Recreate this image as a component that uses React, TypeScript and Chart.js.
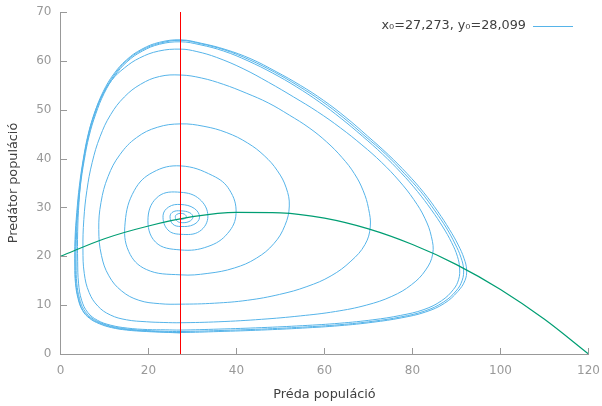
import { useEffect, useRef } from "react";
import { Chart, registerables } from "chart.js";

Chart.register(...registerables);

// ---- data -------------------------------------------------------------
const legendLabel = "x₀=27,273, y₀=28,099";
const xAxisTitle = "Préda populáció";
const yAxisTitle = "Predátor populáció";

const preyRange = [0, 120];
const predatorRange = [0, 70];
const preyStep = 20;
const predatorStep = 10;

// vertical predator nullcline (x = x*)
const equilibriumPrey = 27.273;

// prey nullcline (green curve)
const nullclinePrey = [0, 10, 20, 30, 40, 50, 60, 70, 80, 90, 100, 110, 120];
const nullclinePredator = [20.0, 23.6, 26.2, 28.1, 29.0, 28.9, 27.8, 25.6, 22.4, 18.3, 13.2, 7.1, 0.0];

// trajectory (prey, predator), spiralling out to the limit cycle
const trajectory: [number, number][] = [
  [27.27, 28.1],
  // turn 1
  [27.3, 27.6], [28.2, 27.7], [28.6, 28.1], [28.2, 28.6], [27.3, 28.8], [26.5, 28.6], [26.1, 28.2], [26.4, 27.3],
  // turn 2
  [27.3, 26.9], [29.2, 27.1], [30.1, 28.0], [29.4, 28.9], [27.3, 29.3], [25.6, 29.1], [24.9, 28.2], [25.5, 26.6],
  // turn 3
  [27.3, 26.1], [30.3, 26.5], [31.6, 28.0], [30.4, 29.8], [27.3, 30.6], [24.6, 30.1], [23.3, 28.3], [24.4, 25.4],
  // turn 4
  [27.3, 24.5], [31.6, 25.1], [33.5, 28.2], [31.6, 31.7], [27.3, 33.1], [22.3, 32.3], [19.9, 28.0], [21.6, 22.9],
  // turn 5
  [27.3, 21.3], [33.5, 22.0], [38.0, 24.7], [39.9, 28.8], [38.4, 33.6], [34.6, 36.5], [27.3, 38.5], [21.0, 37.2],
  [16.8, 33.5], [14.7, 27.0], [15.5, 21.0], [19.5, 17.3],
  // turn 6
  [27.3, 16.2], [33.5, 16.5], [39.5, 17.6], [44.5, 19.6], [48.5, 22.6], [51.0, 26.3], [52.0, 30.3],
  [51.3, 34.0], [49.3, 37.5], [46.3, 40.6], [42.5, 43.2], [37.8, 45.3], [32.6, 46.6], [27.3, 47.1],
  [22.0, 46.4], [17.3, 44.3], [13.5, 40.8], [10.8, 36.3], [9.2, 31.0], [8.7, 25.5],
  [9.3, 20.2], [11.0, 16.0], [13.9, 12.9], [17.8, 11.0], [22.5, 10.3],
  // turn 7
  [27.3, 10.2], [35.0, 10.4], [42.5, 11.0], [49.8, 12.2], [56.0, 13.8], [61.5, 16.0], [66.0, 19.0], [69.2, 22.4], [70.4, 26.0],
  [70.0, 29.8], [68.8, 33.4], [66.8, 36.9], [64.0, 40.2], [60.5, 43.4], [56.5, 46.3], [52.0, 48.9], [47.2, 51.4],
  [42.2, 53.4], [37.0, 55.2], [32.0, 56.5], [27.3, 57.1],
  [22.5, 56.8], [18.2, 55.2], [14.5, 52.6], [11.4, 49.0], [9.0, 44.5], [7.2, 39.2], [6.0, 33.5], [5.3, 27.5], [5.1, 21.5],
  [5.4, 16.5], [6.5, 12.6], [8.5, 9.8], [11.3, 8.0], [15.0, 7.0], [19.5, 6.6], [23.5, 6.45],
  // turn 8
  [27.3, 6.4], [36.0, 6.6], [45.7, 7.1], [54.5, 7.8], [62.5, 8.7], [69.5, 10.0], [75.3, 11.8], [79.8, 14.2], [83.0, 17.2], [84.6, 20.5],
  [84.3, 24.0], [82.8, 27.8], [80.3, 31.6], [77.0, 35.4], [73.0, 39.2], [68.5, 42.8], [63.6, 46.3], [58.4, 49.6],
  [53.0, 52.6], [47.3, 55.6], [41.5, 58.4], [35.5, 60.7], [31.0, 61.9], [27.3, 62.4],
  [22.3, 62.0], [18.0, 60.6], [14.6, 58.6], [11.6, 56.0], [9.1, 52.3], [7.2, 47.8], [5.8, 42.6], [4.8, 37.0],
  [4.2, 31.0], [3.9, 25.0], [3.9, 19.0],
  [4.1, 14.5], [4.8, 11.0], [6.2, 8.5], [8.4, 6.9], [11.4, 5.9], [15.2, 5.3], [19.8, 5.0], [23.8, 4.95],
  // turn 9
  [27.3, 4.9], [36.0, 5.1], [45.7, 5.4], [55.0, 5.8], [63.5, 6.3], [71.0, 7.0], [77.3, 7.9], [82.6, 9.1], [86.6, 10.9],
  [89.3, 13.2], [90.5, 15.3], [90.7, 17.6],
  [90.2, 20.0], [88.9, 22.8], [86.9, 26.0], [84.3, 29.5], [81.1, 33.3], [77.4, 37.1], [73.2, 40.9], [68.6, 44.6],
  [63.8, 48.2], [58.8, 51.6], [53.6, 54.7], [48.2, 57.5], [42.6, 60.0], [37.1, 62.0], [31.7, 63.3], [27.3, 63.9],
  [22.5, 63.4], [18.6, 62.0], [15.1, 59.8], [12.3, 56.9], [9.9, 53.3], [8.0, 49.1], [6.5, 44.6], [5.4, 39.7],
  [4.5, 34.3], [3.9, 28.8], [3.6, 23.3], [3.55, 18.0],
  [3.7, 14.5], [4.3, 11.4], [5.3, 9.1], [6.9, 7.5], [9.1, 6.4], [11.9, 5.6], [15.3, 5.1], [19.7, 4.8], [23.6, 4.65],
  // turn 10
  [27.3, 4.6], [36.0, 4.8], [45.7, 5.1], [55.0, 5.5], [63.5, 6.0], [71.0, 6.7], [77.4, 7.6], [82.8, 8.8], [87.0, 10.6],
  [89.9, 12.9], [91.3, 15.1], [91.6, 17.4],
  [91.0, 19.8], [89.7, 22.5], [87.7, 25.8], [85.1, 29.3], [81.9, 33.2], [78.1, 37.0], [73.9, 40.9], [69.2, 44.6],
  [64.4, 48.3], [59.3, 51.8], [54.0, 54.9], [48.6, 57.7], [43.0, 60.2], [37.4, 62.2], [31.9, 63.5], [27.3, 64.2],
  [22.5, 63.6], [18.5, 62.2], [15.0, 60.0], [12.2, 57.1], [9.8, 53.5], [7.9, 49.3], [6.4, 44.8], [5.3, 39.9],
  [4.4, 34.4], [3.8, 28.9], [3.4, 23.4], [3.35, 18.0],
  [3.5, 14.5], [4.1, 11.3], [5.1, 8.9], [6.7, 7.4], [8.9, 6.3], [11.7, 5.5], [15.1, 5.0], [19.6, 4.7], [23.5, 4.5],
  // turn 11 (limit cycle)
  [27.3, 4.4], [36.0, 4.6], [45.7, 4.9], [55.0, 5.3], [63.5, 5.8], [71.0, 6.5], [77.5, 7.4], [83.0, 8.6], [87.3, 10.4],
  [90.3, 12.8], [91.9, 15.0], [92.3, 17.2],
  [91.7, 19.6], [90.4, 22.3], [88.4, 25.5], [85.8, 29.1], [82.6, 33.0], [78.8, 36.9], [74.5, 40.8], [69.8, 44.6],
  [64.9, 48.4], [59.8, 51.9], [54.5, 55.0], [49.0, 57.8], [43.3, 60.4], [37.6, 62.3], [32.0, 63.6], [27.3, 64.3],
  [22.5, 63.8], [18.5, 62.4], [15.0, 60.2], [12.1, 57.3], [9.7, 53.7], [7.8, 49.5], [6.3, 45.0], [5.2, 40.0],
  [4.3, 34.5], [3.7, 29.0], [3.3, 23.5], [3.25, 18.0],
  [3.4, 14.5], [4.0, 11.3], [5.0, 8.9], [6.6, 7.3], [8.8, 6.2], [11.6, 5.4], [15.0, 4.9], [19.5, 4.6], [23.5, 4.45],
  [27.3, 4.3],
];

// ---- styles -----------------------------------------------------------
const FONT = "'DejaVu Sans', Verdana, sans-serif";
const AXIS_COLOR = "#999999";
const TICK_TEXT = "#999999";
const TITLE_TEXT = "#404040";
const BLUE = "#56b4e9";
const GREEN = "#009e73";
const RED = "#ff0000";

const innerTicks = {
  id: "innerTicks",
  afterDatasetsDraw(chart: any) {
    const { ctx, chartArea, scales } = chart;
    const len = 6;
    const left = Math.round(chartArea.left);
    const bottom = Math.round(chartArea.bottom);
    ctx.save();
    ctx.strokeStyle = AXIS_COLOR;
    ctx.lineWidth = 1;
    ctx.beginPath();
    scales.x.ticks.forEach((t: any) => {
      if (t.value === preyRange[0]) return;
      const px = Math.floor(scales.x.getPixelForValue(t.value)) + 0.5;
      ctx.moveTo(px, bottom);
      ctx.lineTo(px, bottom - len);
    });
    scales.y.ticks.forEach((t: any) => {
      if (t.value === predatorRange[0]) return;
      const py = Math.round(scales.y.getPixelForValue(t.value)) + 0.5;
      ctx.moveTo(left, py);
      ctx.lineTo(left + len, py);
    });
    ctx.stroke();
    ctx.restore();
  },
};

const cornerLegend = {
  id: "cornerLegend",
  afterDraw(chart: any) {
    const { ctx, chartArea } = chart;
    const y = Math.round(chartArea.top + 14);
    const lineEnd = Math.round(chartArea.right - 16);
    const lineStart = lineEnd - 40;
    ctx.save();
    ctx.font = `12.8px ${FONT}`;
    ctx.fillStyle = TITLE_TEXT;
    ctx.textAlign = "right";
    ctx.textBaseline = "middle";
    ctx.fillText(legendLabel, lineStart - 7, y);
    ctx.strokeStyle = BLUE;
    ctx.lineWidth = 1;
    ctx.beginPath();
    ctx.moveTo(lineStart, y + 0.5);
    ctx.lineTo(lineEnd, y + 0.5);
    ctx.stroke();
    ctx.restore();
  },
};

export default function App() {
  const canvasRef = useRef<HTMLCanvasElement | null>(null);

  useEffect(() => {
    if (!canvasRef.current) return;
    const chart = new Chart(canvasRef.current, {
      type: "scatter",
      data: {
        datasets: [
          {
            label: "x = x*",
            data: [
              { x: equilibriumPrey, y: predatorRange[0] },
              { x: equilibriumPrey, y: predatorRange[1] },
            ],
            showLine: true,
            borderColor: RED,
            borderWidth: 1,
            pointRadius: 0,
          },
          {
            label: "prey nullcline",
            data: nullclinePrey.map((x, i) => ({ x, y: nullclinePredator[i] })),
            showLine: true,
            borderColor: GREEN,
            borderWidth: 1.2,
            pointRadius: 0,
            cubicInterpolationMode: "monotone",
          },
          {
            label: legendLabel,
            data: trajectory.map(([x, y]) => ({ x, y })),
            showLine: true,
            borderColor: BLUE,
            borderWidth: 1,
            pointRadius: 0,
            tension: 0.4,
          },
        ],
      },
      options: {
        animation: false,
        responsive: true,
        maintainAspectRatio: false,
        layout: { padding: { top: 12, right: 13.5, left: 0, bottom: 0 } },
        plugins: {
          legend: { display: false },
          tooltip: { enabled: false },
        },
        scales: {
          x: {
            type: "linear",
            min: preyRange[0],
            max: preyRange[1],
            afterFit: (s: any) => {
              s.height = 52;
              s.paddingLeft = 0;
              s.paddingRight = 0;
            },
            ticks: {
              stepSize: preyStep,
              color: TICK_TEXT,
              font: { family: FONT, size: 12 },
              padding: 10,
              maxRotation: 0,
            },
            grid: { display: false, drawTicks: false },
            border: { display: true, color: AXIS_COLOR, width: 1 },
            title: {
              display: true,
              text: xAxisTitle,
              color: TITLE_TEXT,
              font: { family: FONT, size: 12.8 },
              padding: { top: 0, bottom: 4 },
            },
          },
          y: {
            type: "linear",
            min: predatorRange[0],
            max: predatorRange[1],
            afterFit: (s: any) => {
              s.width = 60.5;
              s.paddingTop = 0;
              s.paddingBottom = 0;
            },
            ticks: {
              stepSize: predatorStep,
              color: TICK_TEXT,
              font: { family: FONT, size: 12 },
              padding: 9,
            },
            grid: { display: false, drawTicks: false },
            border: { display: true, color: AXIS_COLOR, width: 1 },
            title: {
              display: true,
              text: yAxisTitle,
              color: TITLE_TEXT,
              font: { family: FONT, size: 12.8 },
              padding: { top: 6, bottom: 0 },
            },
          },
        },
      },
      plugins: [innerTicks, cornerLegend],
    });
    return () => chart.destroy();
  }, []);

  return (
    <div style={{ position: "fixed", left: 0, top: 0, width: 602, height: 406, background: "#ffffff" }}>
      <canvas ref={canvasRef} />
    </div>
  );
}
